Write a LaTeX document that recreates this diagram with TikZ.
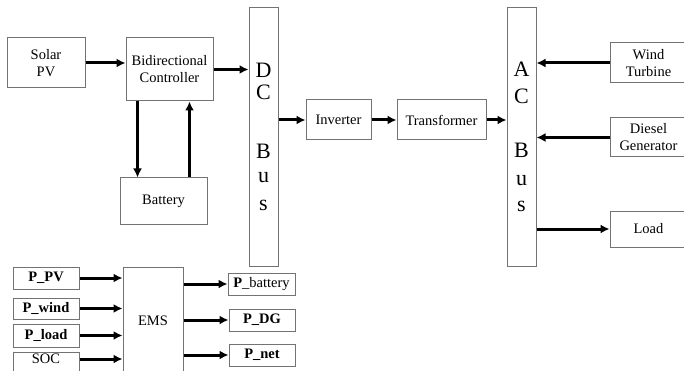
\documentclass[tikz,border=0pt]{standalone}
\usepackage{fontspec}
\setmainfont{Liberation Serif}
\usetikzlibrary{arrows.meta}
\begin{document}
\begin{tikzpicture}[x=1pt, y=-1pt,
        box/.style={draw=black!55, line width=1pt, inner sep=0pt, align=center,
            font=\fontsize{14.5}{17}\selectfont},
        pbox/.style={box, minimum width=66pt},
        bus/.style={box, minimum width=29pt, minimum height=258pt,
            font=\fontsize{22}{22}\selectfont},
        arr/.style={-{Latex[length=9pt,width=9pt]}, line width=3pt}]
    \useasboundingbox (0,0) rectangle (684,371);
    % power flow
    \node[box, minimum width=78pt, minimum height=50pt] (solar) at (46,63) {Solar\\PV};
    \node[box, minimum width=87pt, minimum height=63pt] (bidir) at (169.5,69.5) {Bidirectional\\Controller};
    \node[box, minimum width=87pt, minimum height=46pt] (battery) at (163.5,201) {Battery};
    \node[bus] (dcbus) at (263.5,137) {D\\[0pt]C\\[37pt]B\\[2pt]u\\[6pt]s};
    \node[box, minimum width=65pt, minimum height=40pt] (inverter) at (338.5,120) {Inverter};
    \node[box, minimum width=89pt, minimum height=40pt] (transformer) at (441.5,120) {Transformer};
    \node[bus] (acbus) at (521.5,137) {A\\[5pt]C\\[32pt]B\\[6pt]u\\[4pt]s};
    \node[box, minimum width=77pt, minimum height=40pt] (wind) at (648.5,63) {Wind\\Turbine};
    \node[box, minimum width=77pt, minimum height=39pt] (diesel) at (648.5,137.5) {Diesel\\Generator};
    \node[box, minimum width=77pt, minimum height=36pt] (load) at (648.5,229) {Load};
    \draw[arr] (solar.east) -- (solar.east -| bidir.west);
    \draw[arr] (bidir.east) -- (bidir.east -| dcbus.west);
    \coordinate (chg) at ([xshift=12pt]bidir.south west);
    \coordinate (dis) at ([xshift=-18pt]battery.north east);
    \draw[arr] (chg) -- (chg |- battery.north);
    \draw[arr] (dis) -- (dis |- bidir.south);
    \draw[arr] (inverter.west -| dcbus.east) -- (inverter.west);
    \draw[arr] (inverter) -- (transformer);
    \draw[arr] (transformer.east) -- (transformer.east -| acbus.west);
    \draw[arr] (wind.west) -- (wind.west -| acbus.east);
    \draw[arr] (diesel.west) -- (diesel.west -| acbus.east);
    \draw[arr] (load.west -| acbus.east) -- (load.west);
    % energy management
    \node[pbox, minimum height=22pt] (ppv) at (46,278) {\textbf{P\_PV}};
    \node[pbox, minimum height=21pt] (pwind) at (46,308.5) {\textbf{P\_wind}};
    \node[pbox, minimum height=23pt] (pload) at (46,335.5) {\textbf{P\_load}};
    \node[pbox, text height=11pt, text depth=20pt, anchor=north] (soc) at (46,352) {SOC};
    \node[box, minimum width=60pt, text height=58pt, text depth=55pt, anchor=north] (ems) at (153,267) {EMS};
    \node[pbox, minimum width=67pt, minimum height=22pt] (pbat) at (261.5,284) {\textbf{P}\_battery};
    \node[pbox, minimum height=22pt] (pdg) at (262,320) {\textbf{P\_DG}};
    \node[pbox, minimum height=22pt] (pnet) at (262,355) {\textbf{P\_net}};
    \coordinate (socout) at ([yshift=-7pt]soc.north east);
    \draw[arr] (ppv.east) -- (ppv.east -| ems.west);
    \draw[arr] (pwind.east) -- (pwind.east -| ems.west);
    \draw[arr] (pload.east) -- (pload.east -| ems.west);
    \draw[arr] (socout) -- (socout -| ems.west);
    \draw[arr] (pbat.west -| ems.east) -- (pbat.west);
    \draw[arr] (pdg.west -| ems.east) -- (pdg.west);
    \draw[arr] (pnet.west -| ems.east) -- (pnet.west);
\end{tikzpicture}
\end{document}
